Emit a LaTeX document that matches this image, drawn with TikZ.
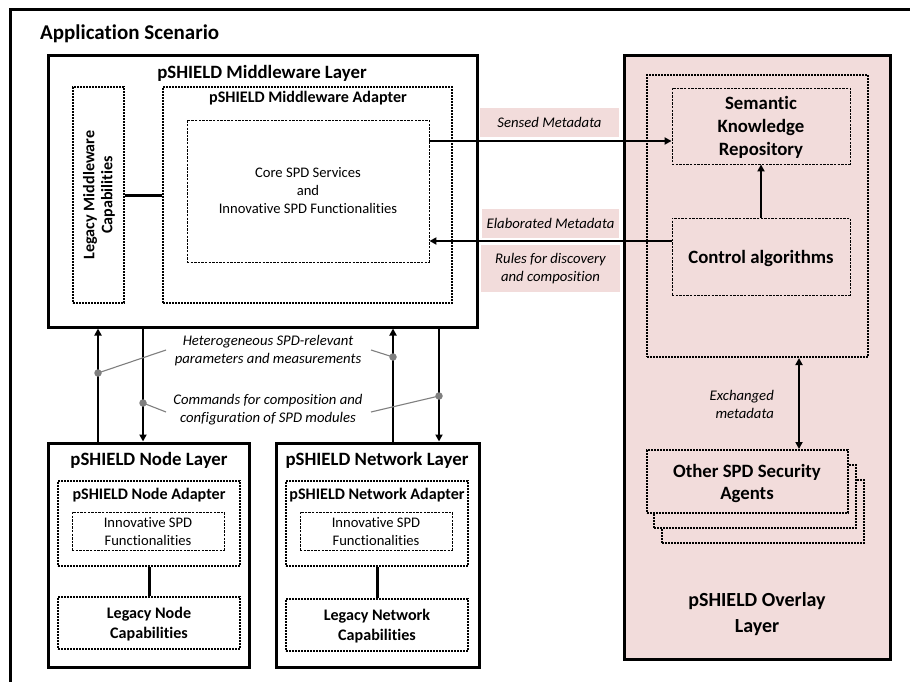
\documentclass[tikz,border=0pt]{standalone}
\usepackage{fontspec}
\setmainfont{Carlito}[Ligatures=NoCommon]
\usetikzlibrary{arrows.meta}
\definecolor{pinkbg}{HTML}{F2DCDB}
\definecolor{callgray}{HTML}{7F7F7F}
\tikzset{
  thickbox/.style={draw=black, line width=3pt, inner sep=0pt},
  dotbox/.style={draw=black, line width=2pt, dash pattern=on 1.7pt off 1.3pt, inner sep=0pt},
  dashbox/.style={draw=black, line width=0.9pt, dash pattern=on 2.4pt off 1.2pt, inner sep=0pt},
  lblbox/.style={fill=pinkbg, inner sep=0pt, font=\fontsize{14.7}{18}\selectfont\itshape, align=center},
  bigtitle/.style={inner sep=0pt, font=\fontsize{18.8}{23}\selectfont\bfseries, align=center},
  midtitle/.style={inner sep=0pt, font=\fontsize{16.1}{20}\selectfont\bfseries, align=center},
  plaintxt/.style={inner sep=0pt, font=\fontsize{14.6}{18}\selectfont, align=center},
  itxt/.style={inner sep=0pt, font=\fontsize{14.7}{18}\selectfont\itshape, align=center},
  arr/.style={line width=2pt, -{Triangle[length=7pt,width=7pt]}},
  darr/.style={line width=2pt, {Triangle[length=7pt,width=7pt]}-{Triangle[length=7pt,width=7pt]}},
  linkline/.style={line width=3pt},
  callout/.style={draw=callgray, line width=1.1pt},
  calldot/.style={fill=callgray, circle, inner sep=0pt, minimum size=7.5pt},
}
\begin{document}
\begin{tikzpicture}[x=1pt,y=-1pt]
\useasboundingbox (0,0) rectangle (910,682);
% outer application frame
\coordinate (frameTL) at (10,10);
\coordinate (frameTR) at (912,10);
\coordinate (frameBL) at (10,684);
\draw[line width=3pt] (frameBL) -- (frameTL) -- (frameTR);
\node[inner sep=0pt, font=\fontsize{21}{25}\selectfont\bfseries, anchor=west] (apptitle) at (40,34) {Application Scenario};

% Middleware layer
\node[thickbox, minimum width=429pt, minimum height=271pt] (mwl) at (262.5,191.5) {};
\node[bigtitle] (mwltitle) at (262,73) {pSHIELD Middleware Layer};
\node[dotbox, minimum width=51pt, minimum height=216pt] (legmw) at (98.5,195) {};
\node[midtitle, font=\fontsize{16.1}{18}\selectfont\bfseries, rotate=90] (legmwtxt) at (99,195) {Legacy Middleware\\Capabilities};
\node[dotbox, minimum width=289pt, minimum height=216pt] (mwad) at (307.5,195) {};
\node[midtitle] (mwadtitle) at (308,98) {pSHIELD Middleware Adapter};
\node[dashbox, minimum width=242pt, minimum height=142pt] (core) at (308,191) {};
\node[plaintxt] (coretxt) at (308,191) {Core SPD Services\\and\\Innovative SPD Functionalities};
\draw[linkline] (legmw) -- (mwad);

% Overlay layer
\node[thickbox, fill=pinkbg, minimum width=266pt, minimum height=603pt] (ovl) at (757,357.5) {};
\node[dotbox, minimum width=221pt, minimum height=282pt] (ovin) at (757.5,216) {};
\node[dashbox, minimum width=178pt, minimum height=76pt] (sem) at (761,126) {};
\node[bigtitle] (semtxt) at (761,127) {Semantic\\Knowledge\\Repository};
\node[dashbox, minimum width=178pt, minimum height=77pt] (ctrl) at (761,256.5) {};
\node[bigtitle] (ctrltxt) at (761,258) {Control algorithms};
\draw[arr] (ctrl) -- (sem);
\node[dotbox, fill=pinkbg, minimum width=202pt, minimum height=63pt] (ag3) at (763,511.5) {};
\node[dotbox, fill=pinkbg, minimum width=202pt, minimum height=63pt] (ag2) at (755,496.5) {};
\node[dotbox, fill=pinkbg, minimum width=201pt, minimum height=63pt] (ag1) at (747.5,481.5) {};
\node[bigtitle, font=\fontsize{18.8}{22}\selectfont\bfseries] (agtxt) at (747,483) {Other SPD Security\\Agents};
\draw[darr] (ovin.south -| 799,0) -- (ag1.north -| 799,0);
\node[itxt, align=right, anchor=east] (exch) at (774,404) {Exchanged\\metadata};
\node[bigtitle, font=\fontsize{20}{26}\selectfont\bfseries] (ovltitle) at (757,614) {pSHIELD Overlay\\Layer};

% Metadata arrows and labels
\draw[arr] (core.east |- 0,141) -- (sem.west |- 0,141);
\draw[arr] (ctrl.west |- 0,241) -- (core.east |- 0,241);
\node[lblbox, minimum width=139pt, minimum height=29pt] (sensed) at (549.5,122.5) {Sensed Metadata};
\node[lblbox, minimum width=137pt, minimum height=29pt] (elab) at (550.5,223.5) {Elaborated Metadata};
\node[lblbox, minimum width=139pt, minimum height=47pt] (rules) at (550.5,268.5) {Rules for discovery\\and composition};

% Node layer
\node[thickbox, minimum width=201pt, minimum height=224pt] (nodel) at (148.5,555) {};
\node[bigtitle] (nodeltitle) at (149,460) {pSHIELD Node Layer};
\node[dotbox, minimum width=182pt, minimum height=85pt] (nodead) at (149,523.5) {};
\node[midtitle] (nodeadtitle) at (149,495) {pSHIELD Node Adapter};
\node[dashbox, minimum width=152pt, minimum height=38pt] (nodeinn) at (148,531) {};
\node[plaintxt] (nodeinntxt) at (148,532) {Innovative SPD\\Functionalities};
\node[dotbox, minimum width=182pt, minimum height=52pt] (nodeleg) at (149,623) {};
\node[midtitle] (nodelegtxt) at (149,624) {Legacy Node\\Capabilities};
\draw[linkline] (nodead) -- (nodeleg);

% Network layer
\node[thickbox, minimum width=203pt, minimum height=224pt] (netl) at (377.5,555) {};
\node[bigtitle] (netltitle) at (377,460) {pSHIELD Network Layer};
\node[dotbox, minimum width=182pt, minimum height=85pt] (netad) at (377,523.5) {};
\node[midtitle] (netadtitle) at (377,495) {pSHIELD Network Adapter};
\node[dashbox, minimum width=152pt, minimum height=38pt] (netinn) at (376,531) {};
\node[plaintxt] (netinntxt) at (376,532) {Innovative SPD\\Functionalities};
\node[dotbox, minimum width=182pt, minimum height=52pt] (netleg) at (377,625) {};
\node[midtitle] (netlegtxt) at (377,626) {Legacy Network\\Capabilities};
\draw[linkline] (netad) -- (netleg);

% vertical arrows
\draw[arr] (nodel.north -| 98,0) -- (mwl.south -| 98,0);
\draw[arr] (mwl.south -| 143,0) -- (nodel.north -| 143,0);
\draw[arr] (netl.north -| 393,0) -- (mwl.south -| 393,0);
\draw[arr] (mwl.south -| 439,0) -- (netl.north -| 439,0);

% callouts
\node[itxt] (hetero) at (268,351) {Heterogeneous SPD-relevant\\parameters and measurements};
\node[itxt] (cmds) at (268,410) {Commands for composition and\\configuration of SPD modules};
\node[calldot] (d1) at (98,373) {};
\node[calldot] (d2) at (393,357) {};
\node[calldot] (d3) at (143,403) {};
\node[calldot] (d4) at (439,396) {};
\coordinate (h1) at (166,350);
\coordinate (h2) at (371,350);
\coordinate (c1) at (166,412);
\coordinate (c2) at (371,412);
\draw[callout] (d1.center) -- (h1);
\draw[callout] (d2.center) -- (h2);
\draw[callout] (d3.center) -- (c1);
\draw[callout] (d4.center) -- (c2);
\end{tikzpicture}
\end{document}
